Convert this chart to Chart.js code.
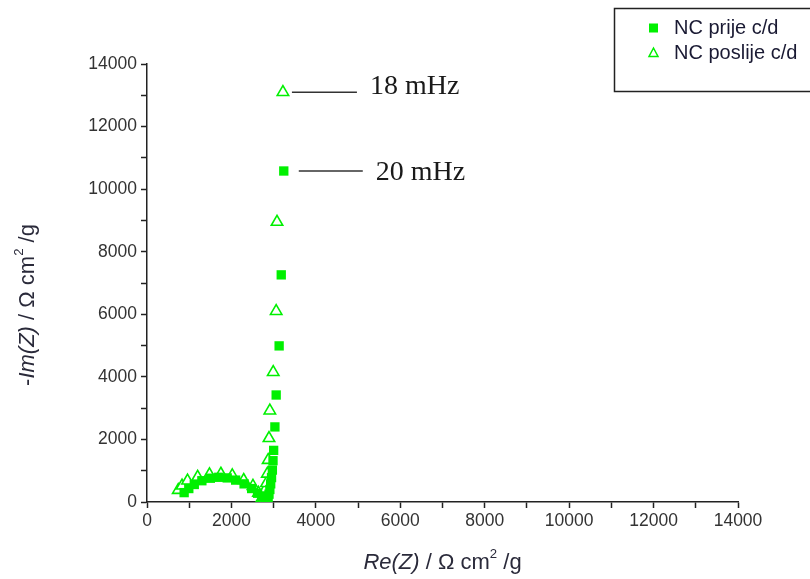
<!DOCTYPE html>
<html>
<head>
<meta charset="utf-8">
<script src="https://cdn.jsdelivr.net/npm/chart.js@4/dist/chart.umd.min.js"></script>
<style>
  html, body { margin: 0; padding: 0; background: #fff; }
  #wrap { width: 810px; height: 579px; }
</style>
</head>
<body>
<div id="wrap"><canvas id="chart" width="810" height="579"></canvas></div>
<script>
// NC prije c/d (punni kvadrati)
const prijeRe = [880, 990, 1120, 1300, 1500, 1700, 1900, 2100, 2300, 2480, 2620, 2720, 2790, 2840, 2870, 2890, 2910, 2930, 2950, 2970, 2985, 3000, 3030, 3060, 3130, 3180, 3240];
const prijeIm = [300, 430, 560, 680, 760, 790, 770, 700, 580, 430, 280, 160, 80, 40, 120, 250, 400, 580, 780, 1020, 1320, 1650, 2400, 3420, 4990, 7260, 10580];

// NC poslije c/d (prazni trokuti)
const poslijeRe = [740, 830, 960, 1200, 1480, 1750, 2020, 2290, 2510, 2640, 2720, 2760, 2790, 2800, 2810, 2830, 2850, 2870, 2890, 2910, 2990, 3060, 3080, 3220];
const poslijeIm = [380, 520, 680, 800, 880, 900, 850, 700, 510, 290, 120, 60, 150, 280, 420, 600, 900, 1340, 2040, 2920, 4150, 6100, 8950, 13100];

const seriesNames = ['NC prije c/d', 'NC poslije c/d'];
const axisMin = 0;
const axisMax = 14000;
const majorStep = 2000;
const minorStep = 1000;
const freqLabels = ['18 mHz', '20 mHz']; // zadnja tocka poslije, zadnja tocka prije

const green = '#00f000';
const axisColor = '#222';

const toPoints = (xs, ys) => xs.map((x, i) => ({ x: x, y: ys[i] }));

// tekst s kurzivom i eksponentom
function richWidth(ctx, parts, size) {
  let w = 0;
  parts.forEach((p) => {
    ctx.font = (p.italic ? 'italic ' : '') + (p.sup ? size * 0.6 : size) + 'px "Liberation Sans", Arial, sans-serif';
    w += ctx.measureText(p.t).width;
  });
  return w;
}
function drawRich(ctx, parts, cx, cy, size) {
  const total = richWidth(ctx, parts, size);
  let x = cx - total / 2;
  ctx.textBaseline = 'middle';
  ctx.textAlign = 'left';
  parts.forEach((p) => {
    const fs = p.sup ? size * 0.6 : size;
    ctx.font = (p.italic ? 'italic ' : '') + fs + 'px "Liberation Sans", Arial, sans-serif';
    ctx.fillText(p.t, x, p.sup ? cy - size * 0.4 : cy);
    x += ctx.measureText(p.t).width;
  });
}

const xTitle = [{ t: 'Re(Z)', italic: true }, { t: ' / Ω cm' }, { t: '2', sup: true }, { t: ' /g' }];
const yTitle = [{ t: '-' }, { t: 'Im(Z)', italic: true }, { t: ' / Ω cm' }, { t: '2', sup: true }, { t: ' /g' }];

const extrasPlugin = {
  id: 'extras',
  afterDraw(chart) {
    const ctx = chart.ctx;
    const xs = chart.scales.x;
    const ys = chart.scales.y;
    const area = chart.chartArea;
    ctx.save();
    ctx.fillStyle = '#2a2a3a';

    // naslovi osi
    drawRich(ctx, xTitle, (area.left + area.right) / 2, 563, 22);
    ctx.save();
    ctx.translate(28, 305);
    ctx.rotate(-Math.PI / 2);
    drawRich(ctx, yTitle, 0, 0, 22);
    ctx.restore();

    // oznake frekvencija
    const lastP = poslijeRe.length - 1;
    const lastQ = prijeRe.length - 1;
    const marks = [
      { px: xs.getPixelForValue(poslijeRe[lastP]), py: ys.getPixelForValue(poslijeIm[lastP]), gap: 9, len: 65, dy: -6, text: freqLabels[0] },
      { px: xs.getPixelForValue(prijeRe[lastQ]), py: ys.getPixelForValue(prijeIm[lastQ]), gap: 15, len: 64, dy: 2, text: freqLabels[1] }
    ];
    ctx.strokeStyle = '#333';
    ctx.lineWidth = 1.5;
    ctx.font = '28px "Liberation Serif", "Times New Roman", serif';
    ctx.fillStyle = '#1a1a1a';
    ctx.textBaseline = 'middle';
    marks.forEach((m) => {
      ctx.beginPath();
      ctx.moveTo(m.px + m.gap, m.py);
      ctx.lineTo(m.px + m.gap + m.len, m.py);
      ctx.stroke();
      ctx.fillText(m.text, m.px + m.gap + m.len + 13, m.py + m.dy);
    });

    // legenda u okviru
    ctx.strokeStyle = '#222';
    ctx.lineWidth = 1.5;
    ctx.strokeRect(614.5, 8.5, 210, 83);
    const ds = chart.data.datasets;
    ctx.font = '20px "Liberation Sans", Arial, sans-serif';
    ds.forEach((d, i) => {
      const ly = 28 + i * 25;
      ctx.fillStyle = green;
      ctx.strokeStyle = green;
      ctx.lineWidth = 1.5;
      if (d.pointStyle === 'rect') {
        ctx.fillRect(649, ly - 4.5, 9, 9);
      } else {
        ctx.beginPath();
        ctx.moveTo(653.5, ly - 5);
        ctx.lineTo(658, ly + 3.5);
        ctx.lineTo(649, ly + 3.5);
        ctx.closePath();
        ctx.stroke();
      }
      ctx.fillStyle = '#1a1a33';
      ctx.textAlign = 'left';
      ctx.fillText(d.label, 674, ly);
    });
    ctx.restore();
  }
};

const tickFont = { family: '"Liberation Sans", Arial, sans-serif', size: 17.5 };

const ctx = document.getElementById('chart').getContext('2d');
const chart = new Chart(ctx, {
  type: 'scatter',
  data: {
    datasets: [
      {
        label: seriesNames[0],
        data: toPoints(prijeRe, prijeIm),
        pointStyle: 'rect',
        pointRadius: 6.6,
        backgroundColor: green,
        borderColor: green,
        borderWidth: 0
      },
      {
        label: seriesNames[1],
        data: toPoints(poslijeRe, poslijeIm),
        pointStyle: 'triangle',
        pointRadius: 6.6,
        backgroundColor: '#ffffff',
        borderColor: green,
        borderWidth: 1.6
      }
    ]
  },
  options: {
    responsive: false,
    animation: false,
    layout: { padding: { top: 64, right: 72, left: 0, bottom: 0 } },
    plugins: {
      legend: { display: false },
      tooltip: { enabled: false }
    },
    scales: {
      x: {
        type: 'linear',
        min: axisMin,
        max: axisMax,
        afterFit: (s) => { s.height = 77; },
        border: { display: true, color: axisColor, width: 1.5 },
        grid: { drawOnChartArea: false, drawTicks: true, tickLength: 6, tickColor: axisColor, tickWidth: 1.5 },
        ticks: {
          stepSize: minorStep,
          autoSkip: false,
          maxRotation: 0,
          padding: 3,
          color: '#333',
          font: tickFont,
          callback: (v) => (v % majorStep === 0 ? String(v) : '')
        }
      },
      y: {
        type: 'linear',
        min: axisMin,
        max: axisMax,
        afterFit: (s) => { s.width = 147; },
        border: { display: true, color: axisColor, width: 1.5 },
        grid: { drawOnChartArea: false, drawTicks: true, tickLength: 6, tickColor: axisColor, tickWidth: 1.5 },
        ticks: {
          stepSize: minorStep,
          autoSkip: false,
          padding: 4,
          color: '#333',
          font: tickFont,
          callback: (v) => (v % majorStep === 0 ? String(v) : '')
        }
      }
    }
  },
  plugins: [extrasPlugin]
});
</script>
</body>
</html>
